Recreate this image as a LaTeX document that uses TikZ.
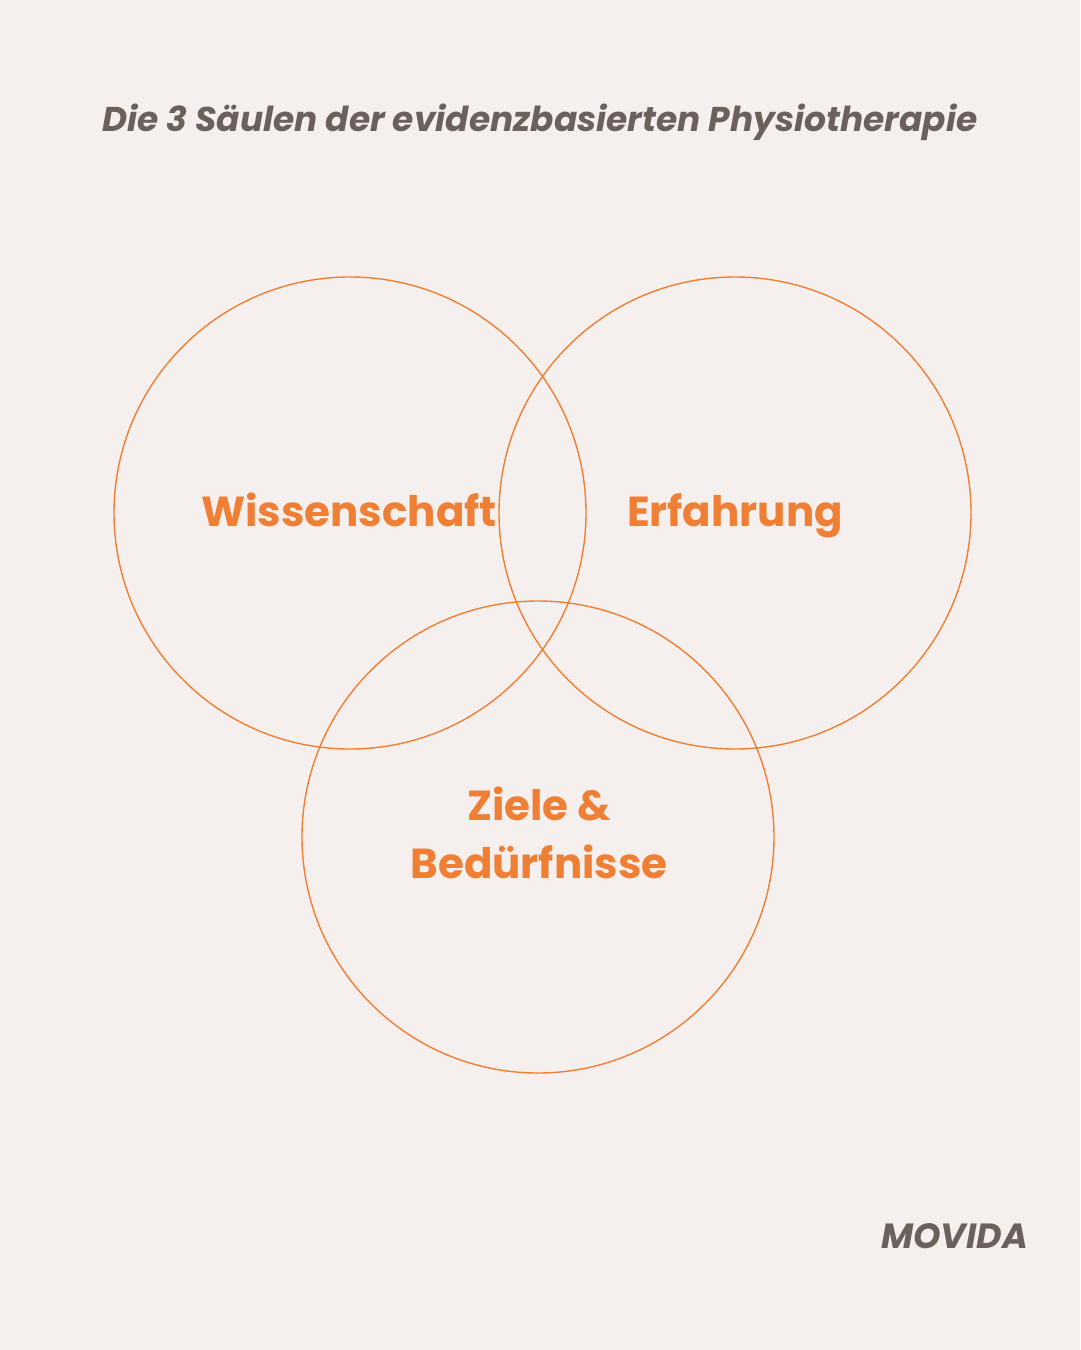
\documentclass[tikz,border=0pt]{standalone}
\usepackage{fontspec}
\setmainfont{Poppins}
\newfontfamily\titlefont{Poppins}[UprightFont=* Bold Italic]
\newfontfamily\labelfont{Poppins}[UprightFont=* Bold]
\definecolor{bgcol}{HTML}{F5F0ED}
\definecolor{ringcol}{HTML}{F07F36}
\definecolor{greycol}{HTML}{6B605C}
\begin{document}
\begin{tikzpicture}
  [x=1pt,y=-1pt,
   ring/.style={draw=ringcol,line width=1.4pt},
   pillar/.style={text=ringcol,font=\labelfont\fontsize{42}{58}\selectfont,anchor=base}]
  \fill[bgcol] (0,0) rectangle (1080,1350);
  \useasboundingbox (0,0) rectangle (1080,1350);
  % the three circles
  \draw[ring] (350,513) circle[radius=236];
  \draw[ring] (735,513) circle[radius=236];
  \draw[ring] (538,837) circle[radius=236];
  % labels
  \node[pillar] (science) at (349,526) {Wissenschaft};
  \node[pillar] (practice) at (735,526) {Erfahrung};
  \node[pillar] (goals) at (539,820) {Ziele \&};
  \node[pillar] (needs) at (539,878) {Bedürfnisse};
  \node[text=greycol,font=\titlefont\fontsize{34.4}{40}\selectfont,anchor=base] (title) at (540,131) {Die 3 Säulen der evidenzbasierten Physiotherapie};
  \node[text=greycol,font=\titlefont\fontsize{35}{40}\selectfont,anchor=base east,inner sep=0pt] (brand) at (1028,1248) {MOVIDA};
\end{tikzpicture}
\end{document}
